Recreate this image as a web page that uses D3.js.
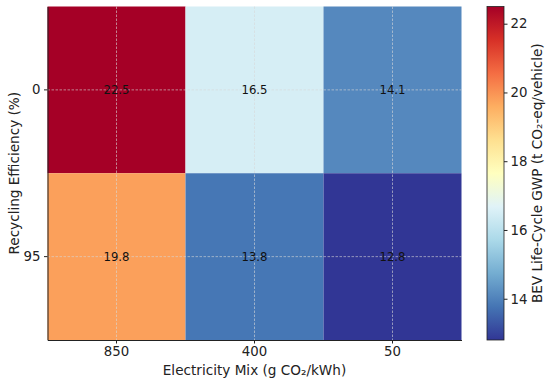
<!DOCTYPE html>
<html>
<head>
<meta charset="utf-8">
<script src="https://cdn.jsdelivr.net/npm/d3@7"></script>
<style>
  body { margin: 0; background: #fff; }
  text { font-family: "DejaVu Sans", sans-serif; fill: #222; }
</style>
</head>
<body>
<div id="container"></div>
<script>
// chart data
const electricity = ["850", "400", "50"];
const recycling = ["0", "95"];
const gwp = [
  [22.5, 16.5, 14.1],
  [19.8, 13.8, 12.8]
];
const cbarTicks = [14, 16, 18, 20, 22];

const width = 550, height = 383;
const plot = { left: 47.5, right: 461.5, top: 6.5, bottom: 340 };
const cbar = { left: 487, right: 504 };

const svg = d3.create("svg")
    .attr("width", width)
    .attr("height", height);

const x = d3.scaleBand().domain(electricity).range([plot.left, plot.right]);
const y = d3.scaleBand().domain(recycling).range([plot.top, plot.bottom]);

// RdYlBu reversed, piecewise linear like matplotlib
const rdylbu = ["#a50026", "#d73027", "#f46d43", "#fdae61", "#fee090", "#ffffbf",
                "#e0f3f8", "#abd9e9", "#74add1", "#4575b4", "#313695"].reverse();
const vmin = d3.min(gwp.flat()), vmax = d3.max(gwp.flat());
const color = d3.scaleLinear()
    .domain(rdylbu.map((c, i) => vmin + i * (vmax - vmin) / (rdylbu.length - 1)))
    .range(rdylbu);

const cells = [];
recycling.forEach((r, i) => electricity.forEach((e, j) => cells.push({ r, e, v: gwp[i][j] })));

// cells
svg.append("g").selectAll("rect")
  .data(cells)
  .join("rect")
    .attr("x", d => x(d.e))
    .attr("y", d => y(d.r))
    .attr("width", x.bandwidth())
    .attr("height", y.bandwidth())
    .attr("fill", d => color(d.v));

// dashed grid at tick centres
const grid = svg.append("g")
    .attr("stroke", "#d8d8d8")
    .attr("stroke-opacity", 0.75)
    .attr("stroke-width", 0.8)
    .attr("stroke-dasharray", "2.5,1.5");
electricity.forEach(e => {
  grid.append("line")
    .attr("x1", x(e) + x.bandwidth() / 2).attr("x2", x(e) + x.bandwidth() / 2)
    .attr("y1", plot.top).attr("y2", plot.bottom);
});
recycling.forEach(r => {
  grid.append("line")
    .attr("y1", y(r) + y.bandwidth() / 2).attr("y2", y(r) + y.bandwidth() / 2)
    .attr("x1", plot.left).attr("x2", plot.right);
});

// annotations
svg.append("g").selectAll("text")
  .data(cells)
  .join("text")
    .attr("x", d => x(d.e) + x.bandwidth() / 2)
    .attr("y", d => y(d.r) + y.bandwidth() / 2)
    .attr("dy", "0.35em")
    .attr("text-anchor", "middle")
    .attr("font-size", 11.7)
    .style("fill", "#111")
    .text(d => d.v.toFixed(1));

// axes
const xAxis = svg.append("g")
    .attr("transform", `translate(0,${plot.bottom})`)
    .call(d3.axisBottom(x).tickSize(3.5).tickSizeOuter(0).tickPadding(3.5));
const yAxis = svg.append("g")
    .attr("transform", `translate(${plot.left},0)`)
    .call(d3.axisLeft(y).tickSize(3.5).tickSizeOuter(0).tickPadding(3.5));
[xAxis, yAxis].forEach(a => {
  a.selectAll("text").attr("font-size", 13.3).attr("font-family", "DejaVu Sans");
  a.select(".domain").attr("stroke", "#222").attr("stroke-width", 1);
  a.selectAll(".tick line").attr("stroke", "#222");
});

// axis titles
svg.append("text")
    .attr("x", (plot.left + plot.right) / 2)
    .attr("y", 375)
    .attr("text-anchor", "middle")
    .attr("font-size", 13.6)
    .text("Electricity Mix (g CO₂/kWh)");
svg.append("text")
    .attr("transform", `translate(19,${(plot.top + plot.bottom) / 2}) rotate(-90)`)
    .attr("text-anchor", "middle")
    .attr("font-size", 13.6)
    .text("Recycling Efficiency (%)");

// colorbar
const cy = d3.scaleLinear().domain([vmin, vmax]).range([plot.bottom, plot.top]);
const grad = svg.append("defs").append("linearGradient")
    .attr("id", "cbar")
    .attr("x1", 0).attr("y1", 1).attr("x2", 0).attr("y2", 0);
color.domain().forEach((v, i) => {
  grad.append("stop")
    .attr("offset", i / (rdylbu.length - 1))
    .attr("stop-color", rdylbu[i]);
});
svg.append("rect")
    .attr("x", cbar.left)
    .attr("y", plot.top)
    .attr("width", cbar.right - cbar.left)
    .attr("height", plot.bottom - plot.top)
    .attr("fill", "url(#cbar)")
    .attr("stroke", "#222")
    .attr("stroke-width", 0.8);
const cAxis = svg.append("g")
    .attr("transform", `translate(${cbar.right},0)`)
    .call(d3.axisRight(cy).tickValues(cbarTicks).tickSize(3.5).tickPadding(3));
cAxis.select(".domain").remove();
cAxis.selectAll("text").attr("font-size", 13.3).attr("font-family", "DejaVu Sans");
cAxis.selectAll(".tick line").attr("stroke", "#222");
svg.append("text")
    .attr("transform", `translate(542,${(plot.top + plot.bottom) / 2}) rotate(-90)`)
    .attr("text-anchor", "middle")
    .attr("font-size", 13.6)
    .text("BEV Life-Cycle GWP (t CO₂-eq/vehicle)");

container.append(svg.node());
</script>
</body>
</html>
